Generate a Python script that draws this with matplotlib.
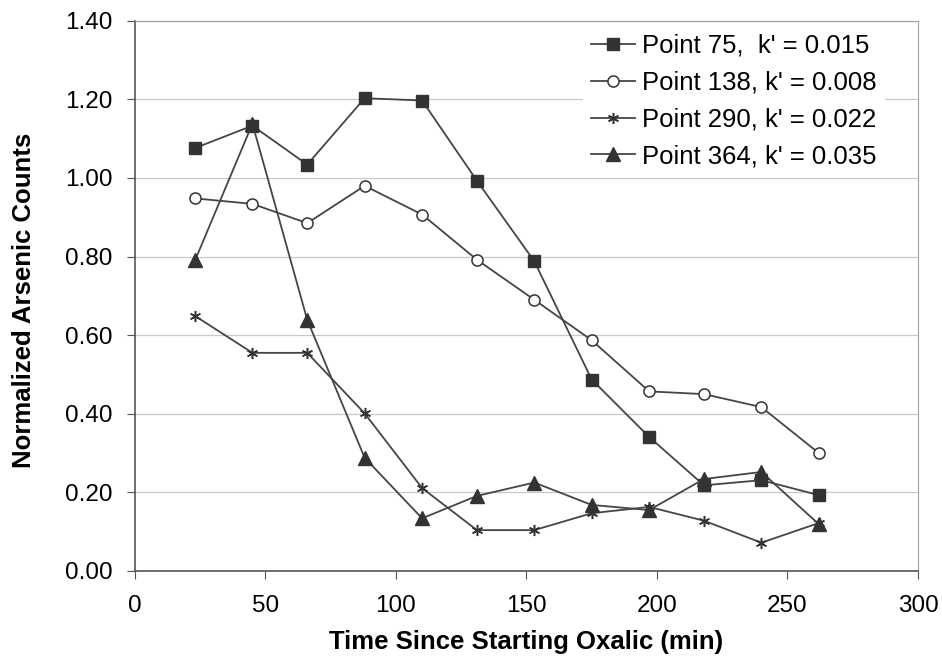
import matplotlib.pyplot as plt

plt.rcParams['font.family'] = ['Liberation Sans', 'DejaVu Sans']

# time since starting oxalic (min)
time_min = [23, 45, 66, 88, 110, 131, 153, 175, 197, 218, 240, 262]

# normalized arsenic counts
point_75 = [1.076, 1.133, 1.034, 1.203, 1.197, 0.993, 0.788, 0.487, 0.341, 0.218, 0.231, 0.193]
point_138 = [0.948, 0.934, 0.885, 0.980, 0.907, 0.792, 0.690, 0.587, 0.457, 0.450, 0.417, 0.300]
point_290 = [0.649, 0.555, 0.555, 0.401, 0.211, 0.104, 0.104, 0.147, 0.163, 0.128, 0.072, 0.122]
point_364 = [0.790, 1.138, 0.639, 0.288, 0.134, 0.191, 0.225, 0.168, 0.155, 0.234, 0.252, 0.119]

labels = ["Point 75,  k' = 0.015", "Point 138, k' = 0.008",
          "Point 290, k' = 0.022", "Point 364, k' = 0.035"]

line_c = '#454545'

fig = plt.figure(figsize=(9.42, 6.69), dpi=100)
ax = fig.add_axes([0.1433, 0.1465, 0.8312, 0.8225])

ax.plot(time_min, point_75, color=line_c, lw=1.3, marker='s', ms=8.5,
        mfc='#333333', mec='#333333', label=labels[0])
ax.plot(time_min, point_138, color=line_c, lw=1.3, marker='o', ms=8,
        mfc='white', mec='#333333', mew=1.1, label=labels[1])
ax.plot(time_min, point_290, color=line_c, lw=1.3, marker=(6, 2, 0), ms=8,
        mfc='#333333', mec='#333333', mew=1.1, label=labels[2])
ax.plot(time_min, point_364, color=line_c, lw=1.3, marker='^', ms=10,
        mfc='#333333', mec='#333333', label=labels[3])

ax.set_xlim(0, 300)
ax.set_ylim(0, 1.40)
ax.set_xticks(range(0, 301, 50))
ax.set_yticks([i * 0.2 for i in range(8)])
ax.set_yticklabels([f'{i * 0.2:.2f}' for i in range(8)])
ax.yaxis.grid(True, color='#c8c8c8', lw=0.9)
ax.set_axisbelow(True)

for side in ['top', 'right']:
    ax.spines[side].set_color('#a0a0a0')
for side in ['left', 'bottom']:
    ax.spines[side].set_color('#555555')
    ax.spines[side].set_linewidth(1.2)

ax.tick_params(axis='both', labelsize=17.5, direction='out', length=6,
               color='#555555')
ax.tick_params(axis='x', pad=11)
ax.tick_params(axis='y', pad=10)

ax.set_xlabel('Time Since Starting Oxalic (min)', fontsize=18.5,
              fontweight='bold')
ax.set_ylabel('Normalized Arsenic Counts', fontsize=18.5, fontweight='bold')
ax.xaxis.set_label_coords(0.5, -0.107)
ax.yaxis.set_label_coords(-0.1265, 0.492)

leg = ax.legend(loc='upper right', bbox_to_anchor=(0.957, 0.99),
                fontsize=18.5, frameon=True, framealpha=1, edgecolor='white',
                fancybox=False, handlelength=1.7, handletextpad=0.28,
                labelspacing=0.5, borderpad=0.3, borderaxespad=0)

fig.savefig('out.png', dpi=100)
